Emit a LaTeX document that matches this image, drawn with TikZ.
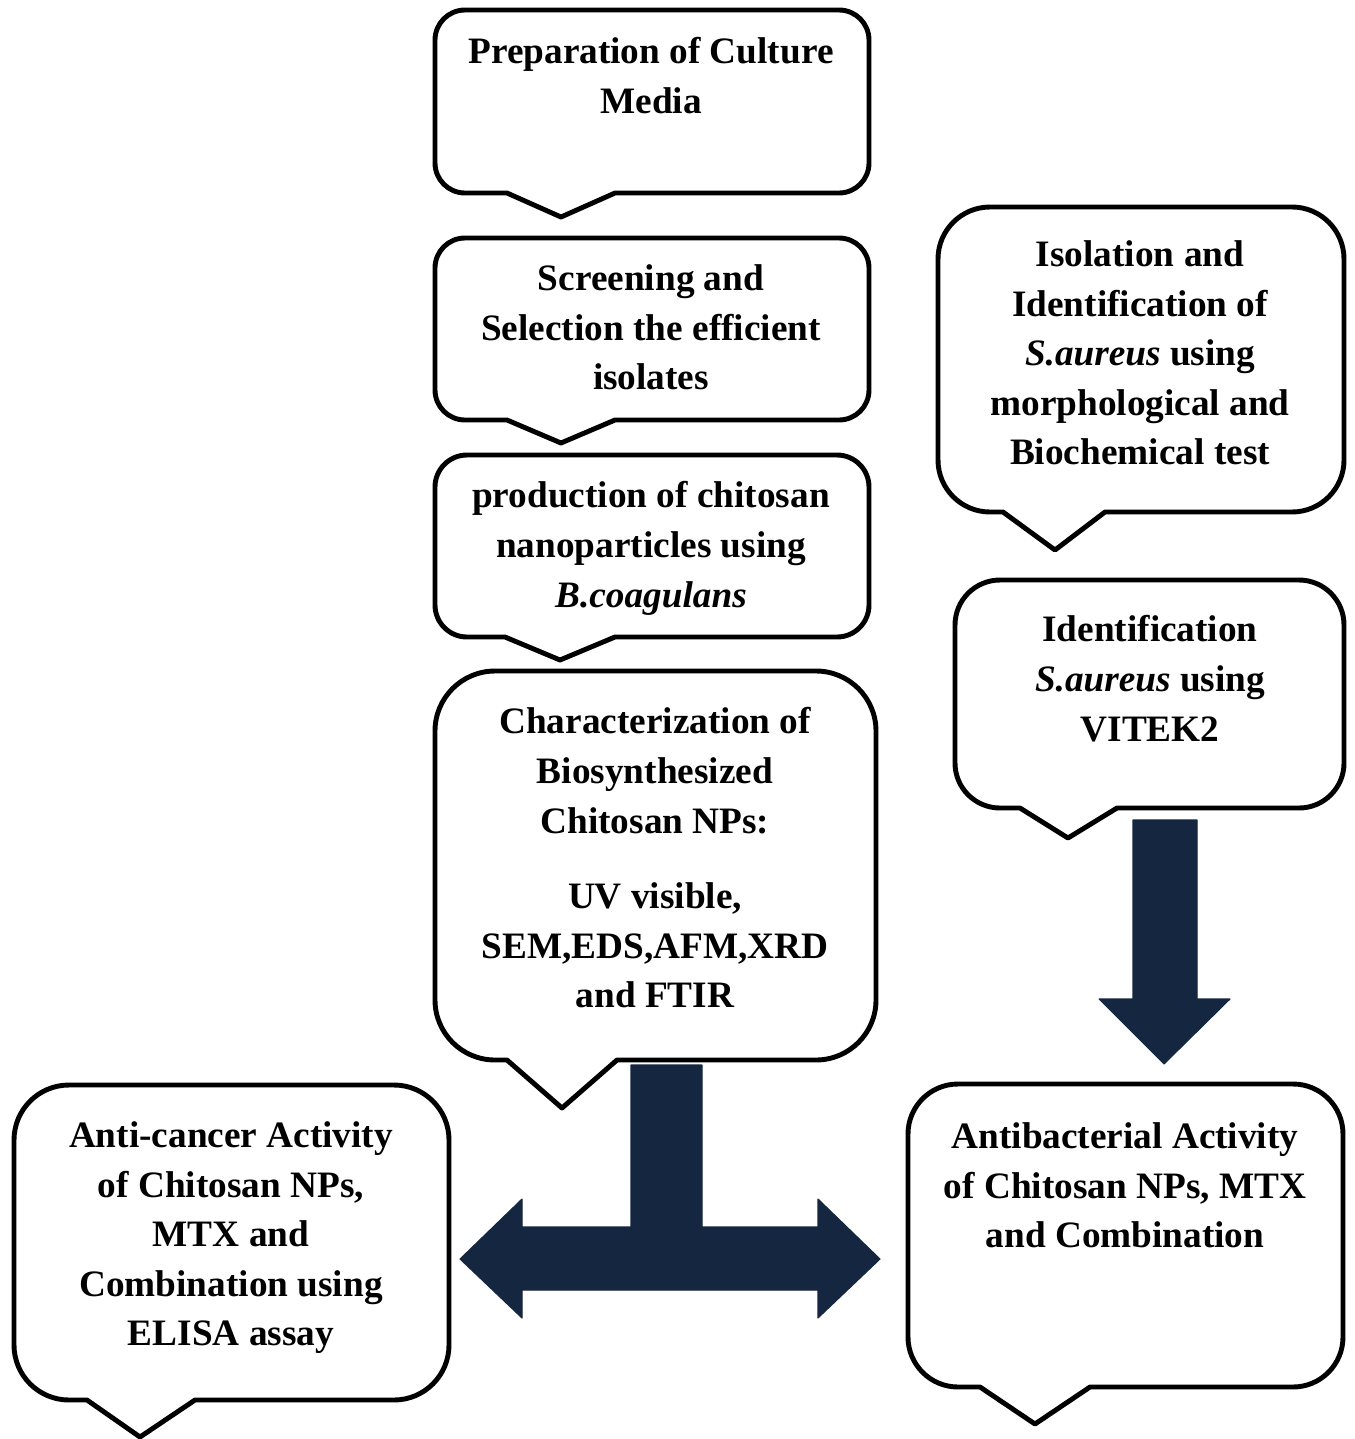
\documentclass[tikz,border=0pt]{standalone}
\usepackage{fontspec}
\setmainfont{Liberation Serif}
\definecolor{navy}{RGB}{20,38,64}
\tikzset{
  bubbleline/.style={line width=1.4pt, line join=round, fill=white},
  boxtext/.style={anchor=north, align=center, inner sep=0pt,
    font=\fontsize{10.6}{14.1}\selectfont\bfseries},
  blockarrow/.style={fill=navy, draw=navy, line width=0.3pt, line join=round},
}
% speech box: left, top, right, bottom, radius, pointer left, pointer right, tip x, tip y
\newcommand\speechbox[9]{%
  \draw[bubbleline] (#6,#4) -- (#1+#5,#4) arc[start angle=270,end angle=180,radius=#5*0.01cm]
    -- (#1,#2-#5) arc[start angle=180,end angle=90,radius=#5*0.01cm]
    -- (#3-#5,#2) arc[start angle=90,end angle=0,radius=#5*0.01cm]
    -- (#3,#4+#5) arc[start angle=0,end angle=-90,radius=#5*0.01cm]
    -- (#7,#4) -- (#8,#9) -- cycle;}
\begin{document}
\begin{tikzpicture}[x=0.01cm,y=0.01cm]
  \useasboundingbox (0,0) rectangle (1354,-1439);

  % left column
  \speechbox{435}{-10}{869}{-193}{30}{507}{615}{561}{-217}
  \speechbox{435}{-238}{869}{-420}{30}{507}{615}{561}{-443}
  \speechbox{435}{-455}{869}{-637}{32}{505}{615}{560}{-660}
  \speechbox{435}{-671}{876}{-1060}{60}{507}{617}{562}{-1108}
  % right column
  \speechbox{938}{-207}{1344}{-512}{52}{1003}{1105}{1055}{-550}
  \speechbox{955}{-580}{1344}{-808}{45}{1020}{1117}{1068}{-838}
  % results
  \speechbox{14}{-1085}{449}{-1400}{55}{87}{195}{140}{-1437}
  \speechbox{908}{-1084}{1343}{-1387}{50}{980}{1090}{1035}{-1424}

  \node[boxtext] (media) at (651,-37) {Preparation of Culture\\Media};
  \node[boxtext] (screen) at (651,-264) {Screening and\\Selection the efficient\\isolates};
  \node[boxtext] (prod) at (651,-481) {production of chitosan\\nanoparticles using\\\textit{B.coagulans}};
  \node[boxtext] (charac) at (655,-707) {Characterization of\\Biosynthesized\\Chitosan NPs:\\[0.26cm]UV visible,\\SEM,EDS,AFM,XRD\\and FTIR};
  \node[boxtext] (isol) at (1140,-240) {Isolation and\\Identification of\\\textit{S.aureus} using\\morphological and\\Biochemical test};
  \node[boxtext] (vitek) at (1150,-615) {Identification\\\textit{S.aureus} using\\VITEK2};
  \node[boxtext] (cancer) at (231,-1121) {Anti-cancer Activity\\of Chitosan NPs,\\MTX and\\Combination using\\ELISA assay};
  \node[boxtext] (bact) at (1125,-1122) {Antibacterial Activity\\of Chitosan NPs, MTX\\and Combination};

  % arrows
  \fill[blockarrow] (1133,-820) -- (1197,-820) -- (1197,-999) -- (1230,-999)
    -- (1164,-1064) -- (1099,-999) -- (1133,-999) -- cycle;
  \fill[blockarrow] (631,-1065) -- (702,-1065) -- (702,-1227) -- (818,-1227)
    -- (818,-1199) -- (880,-1259) -- (818,-1318) -- (818,-1290)
    -- (522,-1290) -- (522,-1318) -- (460,-1259) -- (522,-1199)
    -- (522,-1227) -- (631,-1227) -- cycle;
\end{tikzpicture}
\end{document}
